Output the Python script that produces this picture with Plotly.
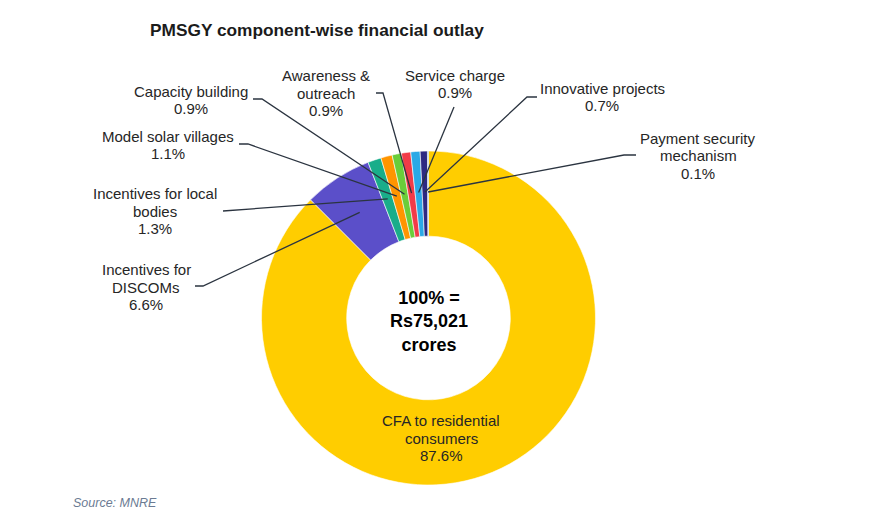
import math
import plotly.graph_objects as go

W, H = 880, 526
OFF = 8  # page body margin offset in the rendered screenshot

categories = [
    "CFA to residential consumers",
    "Incentives for DISCOMs",
    "Incentives for local bodies",
    "Model solar villages",
    "Capacity building",
    "Awareness & outreach",
    "Service charge",
    "Innovative projects",
    "Payment security mechanism",
]
shares = [87.6, 6.6, 1.3, 1.1, 0.9, 0.9, 0.9, 0.7, 0.1]
label_lines = [
    ["CFA to residential", "consumers"],
    ["Incentives for", "DISCOMs"],
    ["Incentives for local", "bodies"],
    ["Model solar villages"],
    ["Capacity building"],
    ["Awareness &", "outreach"],
    ["Service charge"],
    ["Innovative projects"],
    ["Payment security", "mechanism"],
]
colors = ["#FFCD00", "#5B4FC9", "#19AD8A", "#FF9500", "#6ACD3A",
          "#F23B48", "#2BA9E6", "#2E2A82", "#4A7FA8"]

FONT = "Liberation Sans, Arial, sans-serif"

# pie geometry in screenshot pixels
CX, CY, R = 428.5, 318, 167
HOLE = 0.49


def px(x):
    return (x - OFF) / W


def py(y):
    return 1 - (y - OFF) / H


fig = go.Figure(go.Pie(
    labels=categories,
    values=shares,
    hole=HOLE,
    sort=False,
    direction="clockwise",
    rotation=0,
    marker=dict(colors=colors, line=dict(color="white", width=0.6)),
    textinfo="none",
    hoverinfo="label+percent",
    domain=dict(x=[px(CX - R), px(CX + R)], y=[py(CY + R), py(CY - R)]),
    showlegend=False,
))

# label positions (centre of text block, px) and leader-line start points
label_pos = [
    (441, 438), (146, 287), (155, 211), (168, 145), (191, 100),
    (326, 93), (455, 84), (602, 97), (698, 156),
]
leader_start = [
    None,
    [(195, 286), (203, 286)],
    [(223, 211)],
    [(239, 144), (248, 144)],
    [(253, 99), (262, 99)],
    [(376, 93), (383, 93)],
    [(454, 107)],
    [(537, 97), (527, 97)],
    [(636, 155), (624, 155)],
]

total = sum(shares)
cum = 0.0
mids = []
for v in shares:
    mids.append((cum + v / 2) / total)
    cum += v

line_r = 126
shapes = []
for i, pts in enumerate(leader_start):
    if pts is None:
        continue
    ang = 2 * math.pi * mids[i]
    tx = CX + line_r * math.sin(ang)
    ty = CY - line_r * math.cos(ang)
    allp = pts + [(tx, ty)]
    path = "M " + " L ".join(f"{px(x):.5f},{py(y):.5f}" for x, y in allp)
    shapes.append(dict(type="path", path=path, xref="paper", yref="paper",
                       line=dict(color="#2B3440", width=1.3)))

LS = 17.7
annotations = []
for i, (lx, ly) in enumerate(label_pos):
    lines = label_lines[i] + [f"{shares[i]:.1f}%"]
    n = len(lines)
    y0 = ly - (n - 1) / 2 * LS
    for k, t in enumerate(lines):
        annotations.append(dict(
            x=px(lx), y=py(y0 + k * LS), xref="paper", yref="paper",
            text=t, showarrow=False, xanchor="center", yanchor="middle",
            font=dict(family=FONT, size=15, color="#262626"),
        ))

annotations.append(dict(
    x=px(CX), y=py(CY + 3), xref="paper", yref="paper",
    text="<b>100% =<br>Rs75,021<br>crores</b>",
    showarrow=False, xanchor="center", yanchor="middle",
    font=dict(family=FONT, size=18, color="#000000"),
))
annotations.append(dict(
    x=px(148), y=py(30), xref="paper", yref="paper",
    text="<b>PMSGY component-wise financial outlay</b>",
    showarrow=False, xanchor="left", yanchor="middle",
    font=dict(family=FONT, size=17.3, color="#1B1B1B"),
))
annotations.append(dict(
    x=px(71), y=py(503), xref="paper", yref="paper",
    text="<i>Source: MNRE</i>",
    showarrow=False, xanchor="left", yanchor="middle",
    font=dict(family=FONT, size=12.5, color="#6B7B93"),
))

fig.update_layout(
    width=W, height=H,
    margin=dict(l=0, r=0, t=0, b=0),
    paper_bgcolor="white",
    plot_bgcolor="white",
    shapes=shapes,
    annotations=annotations,
)

fig.write_html("out.html")
